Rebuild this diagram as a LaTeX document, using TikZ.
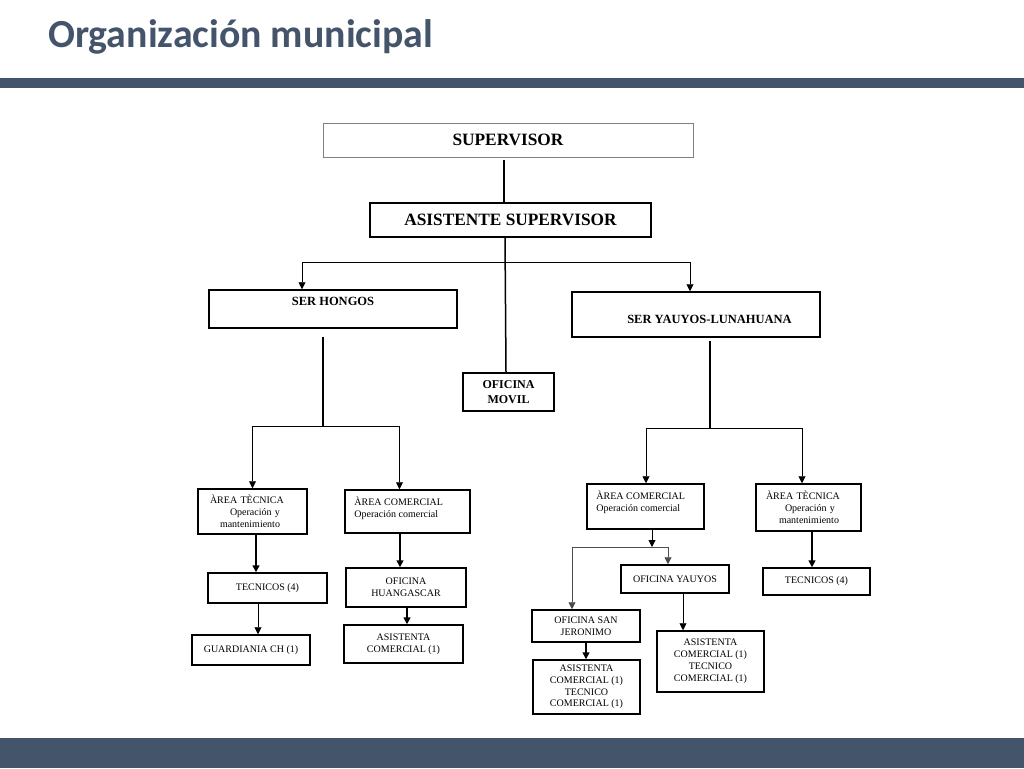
\documentclass[tikz,border=0pt]{standalone}
\usepackage{fontspec}
\setmainfont{Liberation Serif}
\newfontfamily\titlefont{Carlito}
\usetikzlibrary{arrows.meta}
\definecolor{slate}{RGB}{68,84,106}

\begin{document}
\begin{tikzpicture}[x=1pt, y=-1pt,
    box/.style={draw, line width=1.5pt, inner sep=0pt, align=center},
    lab/.style={inner sep=0pt, align=left, font=\fsmall},
    conn/.style={line width=1.5pt},
    thinconn/.style={line width=0.9pt},
    >={Triangle[length=7pt, width=7pt]}]

    % Fonts
    \def\fsup{\bfseries\fontsize{17.3}{20}\selectfont}
    \def\fser{\bfseries\fontsize{12.5}{15}\selectfont}
    \def\fmov{\bfseries\fontsize{12}{15.5}\selectfont}
    \def\fsmall{\fontsize{10}{12}\selectfont}

    \useasboundingbox (0,0) rectangle (1024,768);

    % Title and bars
    \node[font=\titlefont\bfseries\fontsize{39.8}{44}\selectfont, text=slate,
          anchor=base west, inner sep=0pt] (title) at (48,48) {Organización municipal};
    \fill[slate] (0,78) rectangle (1024,88);
    \fill[slate] (0,738) rectangle (1024,768);

    % Top levels
    \node[box, line width=0.8pt, draw=gray, minimum width=370, minimum height=34, font=\fsup]
        (sup) at (508,140) {SUPERVISOR};
    \node[box, line width=1.8pt, minimum width=281, minimum height=34, font=\fsup]
        (asis) at (510.5,220) {ASISTENTE SUPERVISOR};
    \node[box, minimum width=248, minimum height=38,
          label={[font=\fser, inner sep=0pt, anchor=north, yshift=-8pt]north:SER HONGOS}]
        (hongos) at (333,309) {};
    \node[box, minimum width=248, minimum height=45,
          label={[font=\fser, inner sep=0pt, xshift=13.5pt, yshift=-4.5pt]center:SER YAUYOS-LUNAHUANA}]
        (yauyos) at (696,314.5) {};
    \node[box, minimum width=91, minimum height=38, font=\fmov]
        (movil) at (508.5,392) {OFICINA\\MOVIL};

    % SER HONGOS side
    \node[box, minimum width=109, minimum height=45, font=\fsmall, text width=85, align=left]
        (atecL) at (252.5,511.5) {ÀREA TÈCNICA\\\hspace*{2em}Operación y\\\hspace*{1em}mantenimiento};
    \node[box, minimum width=125, minimum height=43,
          label={[lab, anchor=west, xshift=10pt, yshift=3pt]west:{ÀREA COMERCIAL\\Operación comercial}}]
        (acomL) at (407.5,511.5) {};
    \node[box, minimum width=119, minimum height=30, font=\fsmall] (tecL) at (267.5,588) {TECNICOS (4)};
    \node[box, minimum width=118, minimum height=30, font=\fsmall] (guard) at (251,650) {GUARDIANIA CH (1)};
    \node[box, minimum width=120, minimum height=39, font=\fsmall] (huang) at (406,587.5) {OFICINA\\HUANGASCAR};
    \node[box, minimum width=119, minimum height=38, font=\fsmall] (asisL) at (403.5,644) {ASISTENTA\\COMERCIAL (1)};

    % SER YAUYOS side
    \node[box, minimum width=117, minimum height=45,
          label={[lab, anchor=west, xshift=10pt, yshift=4.5pt]west:{ÀREA COMERCIAL\\Operación comercial}}]
        (acomR) at (645.5,506.5) {};
    \node[box, minimum width=105, minimum height=47, font=\fsmall, text width=85, align=left]
        (atecR) at (808.5,507.5) {ÀREA TÈCNICA\\\hspace*{1.9em}Operación y\\\hspace*{1.3em}mantenimiento};
    \node[box, minimum width=107, minimum height=27, font=\fsmall] (tecR) at (816.5,581.5) {TECNICOS (4)};
    \node[box, minimum width=108, minimum height=28, font=\fsmall] (yauy) at (675,579) {OFICINA YAUYOS};
    \node[box, minimum width=108, minimum height=32, font=\fsmall] (sanj) at (586,626) {OFICINA SAN\\JERONIMO};
    \node[box, minimum width=107, minimum height=54, font=\fontsize{10}{11.7}\selectfont]
        (asisRL) at (586.5,687) {ASISTENTA\\COMERCIAL (1)\\TECNICO\\COMERCIAL (1)};
    \node[box, minimum width=107, minimum height=61, font=\fsmall]
        (asisRR) at (710.5,661.5) {ASISTENTA\\COMERCIAL (1)\\TECNICO\\COMERCIAL (1)};

    % Junctions
    \coordinate (jtop) at (505,262);
    \coordinate (jhon) at (323,426);
    \coordinate (jyau) at (710,428);
    \coordinate (jcom) at (652,547);

    % Connectors, top
    \draw[conn] ([xshift=-4pt, yshift=-3pt]sup.south) -- ([xshift=-6.5pt]asis.north);
    \draw[conn] ([xshift=-5.5pt]asis.south) -- ([xshift=-2.5pt]movil.north);
    \draw[thinconn, ->] (jtop) -| ([xshift=-31pt]hongos.north);
    \draw[thinconn, ->] (jtop) -| ([xshift=-6pt]yauyos.north);

    % Connectors, SER HONGOS
    \draw[conn] ([xshift=-10pt, yshift=-8pt]hongos.south) -- (jhon);
    \draw[thinconn, ->] (jhon) -| (atecL.north);
    \draw[thinconn, ->] (jhon) -| ([xshift=-8pt]acomL.north);
    \draw[conn, ->] ([xshift=3.5pt]atecL.south) -- ([xshift=-11.5pt]tecL.north);
    \draw[thinconn, ->] ([xshift=-9.5pt]tecL.south) -- ([xshift=7pt]guard.north);
    \draw[conn, ->] ([xshift=-7.5pt]acomL.south) -- ([xshift=-6pt]huang.north);
    \draw[conn, ->] ([xshift=1pt]huang.south) -- ([xshift=3.5pt]asisL.north);

    % Connectors, SER YAUYOS
    \draw[conn] ([xshift=14pt, yshift=-3pt]yauyos.south) -- (jyau);
    \draw[thinconn, ->] (jyau) -| ([xshift=0.5pt]acomR.north);
    \draw[thinconn, ->] (jyau) -| ([xshift=-6.5pt]atecR.north);
    \draw[conn, ->] ([xshift=3.5pt]atecR.south) -- ([xshift=-4.5pt]tecR.north);
    \draw[thinconn, ->] ([xshift=6.5pt]acomR.south) -- (jcom);
    \draw[thinconn, black!70, ->] (jcom) -| ([xshift=-7pt]yauy.north);
    \draw[thinconn, black!70, ->] (jcom) -| ([xshift=-14pt]sanj.north);
    \draw[conn, ->] (sanj.south) -- ([xshift=-0.5pt]asisRL.north);
    \draw[thinconn, ->] ([xshift=8pt]yauy.south) -- ([xshift=-27.5pt]asisRR.north);

\end{tikzpicture}
\end{document}
